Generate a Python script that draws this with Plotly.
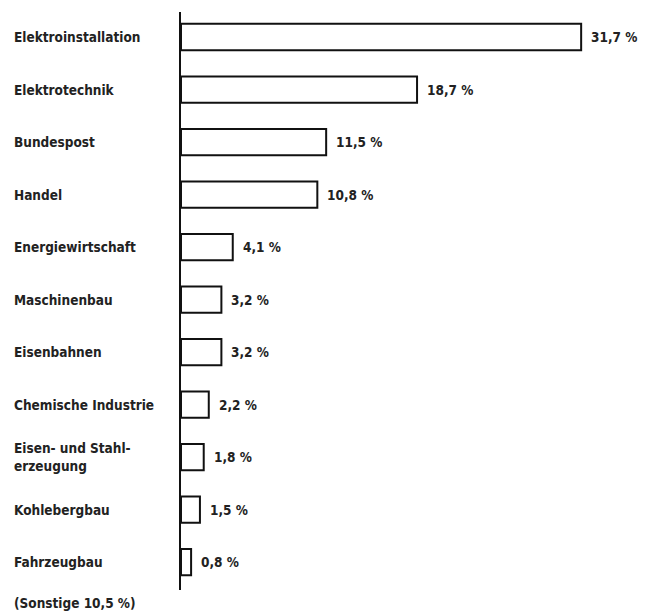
import plotly.graph_objects as go

categories = ["Elektroinstallation", "Elektrotechnik", "Bundespost", "Handel",
              "Energiewirtschaft", "Maschinenbau", "Eisenbahnen", "Chemische Industrie",
              "Eisen- und Stahl-<br>erzeugung", "Kohlebergbau", "Fahrzeugbau"]
values = [31.7, 18.7, 11.5, 10.8, 4.1, 3.2, 3.2, 2.2, 1.8, 1.5, 0.8]
value_labels = ["31,7 %", "18,7 %", "11,5 %", "10,8 %", "4,1 %", "3,2 %", "3,2 %",
                "2,2 %", "1,8 %", "1,5 %", "0,8 %"]
footnote = "(Sonstige 10,5 %)"

FONT = "Liberation Sans Narrow, DejaVu Sans Condensed, Arial Narrow, sans-serif"
TXT = "#222222"
FS = 13.5

ypos = list(range(len(categories)))

fig = go.Figure(go.Bar(
    x=values, y=ypos, orientation="h", width=0.5,
    marker=dict(color="white", line=dict(color="#111111", width=2)),
    hoverinfo="skip",
))

ann = []
for i, (c, v, t) in enumerate(zip(categories, values, value_labels)):
    ann.append(dict(x=0, xref="paper", y=i, yref="y", text="<b>" + c + "</b>",
                    xanchor="left", yanchor="middle", align="left", xshift=-169,
                    showarrow=False, font=dict(family=FONT, size=FS, color=TXT)))
    ann.append(dict(x=v, xref="x", y=i, yref="y", text="<b>" + t + "</b>",
                    xanchor="left", yanchor="middle", xshift=8,
                    showarrow=False, font=dict(family=FONT, size=FS, color=TXT)))
ann.append(dict(x=0, xref="paper", y=0, yref="paper", text="<b>" + footnote + "</b>",
                xanchor="left", yanchor="middle", xshift=-169, yshift=-13,
                showarrow=False, font=dict(family=FONT, size=FS, color=TXT)))

fig.update_layout(
    width=641, height=607,
    margin=dict(l=173, r=6, t=4, b=25),
    paper_bgcolor="white", plot_bgcolor="white",
    showlegend=False,
    annotations=ann,
    xaxis=dict(range=[0, 36.6], visible=False),
    yaxis=dict(range=[10.53, -0.476], showline=True, linewidth=2, linecolor="#111111",
               showticklabels=False, ticks="", showgrid=False, zeroline=False),
)

fig.write_html("out.html")
